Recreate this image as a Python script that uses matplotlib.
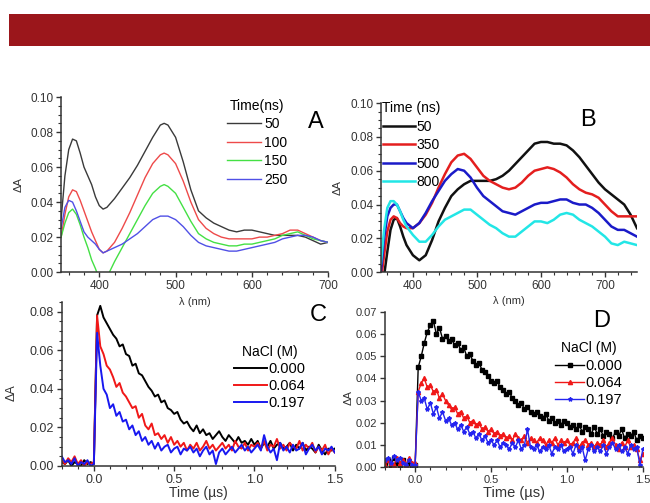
import numpy as np
import matplotlib
matplotlib.use('Agg')
import matplotlib.pyplot as plt
from matplotlib.patches import Rectangle

plt.rcParams['font.family'] = ['Liberation Sans', 'DejaVu Sans']

# Panel A: transient spectra (wavelength in nm)
wl_a = [350, 355, 360, 365, 370, 375, 380, 385, 390, 395, 400, 405, 410, 420, 430,
        440, 450, 460, 470, 480, 485, 490, 500, 510, 520, 530, 540, 550, 560, 570,
        580, 590, 600, 610, 620, 630, 640, 650, 660, 670, 680, 690, 700]
a_50 = [0.030, 0.055, 0.070, 0.076, 0.075, 0.068, 0.060, 0.055, 0.050, 0.043, 0.038, 0.036, 0.037, 0.042, 0.048,
        0.054, 0.061, 0.069, 0.077, 0.084, 0.085, 0.084, 0.077, 0.063, 0.047, 0.035, 0.031, 0.028, 0.026, 0.024,
        0.023, 0.024, 0.024, 0.023, 0.022, 0.021, 0.021, 0.021, 0.021, 0.020, 0.018, 0.016, 0.017]
a_100 = [0.020, 0.033, 0.043, 0.047, 0.046, 0.041, 0.035, 0.029, 0.023, 0.018, 0.013, 0.011, 0.012, 0.017, 0.025,
         0.034, 0.044, 0.054, 0.062, 0.067, 0.068, 0.067, 0.062, 0.052, 0.040, 0.030, 0.025, 0.022, 0.020, 0.019,
         0.019, 0.019, 0.019, 0.020, 0.020, 0.021, 0.022, 0.024, 0.024, 0.022, 0.020, 0.018, 0.017]
a_150 = [0.020, 0.028, 0.034, 0.036, 0.033, 0.027, 0.020, 0.014, 0.007, 0.002, -0.004, -0.007, -0.003, 0.006, 0.014,
         0.022, 0.030, 0.038, 0.045, 0.049, 0.050, 0.049, 0.045, 0.037, 0.029, 0.022, 0.019, 0.017, 0.016, 0.015,
         0.015, 0.016, 0.016, 0.017, 0.018, 0.019, 0.021, 0.022, 0.023, 0.021, 0.019, 0.018, 0.017]
a_250 = [0.025, 0.037, 0.041, 0.040, 0.035, 0.029, 0.023, 0.020, 0.018, 0.016, 0.013, 0.011, 0.012, 0.014, 0.016,
         0.019, 0.022, 0.026, 0.030, 0.032, 0.032, 0.032, 0.030, 0.026, 0.021, 0.017, 0.015, 0.014, 0.013, 0.012,
         0.012, 0.013, 0.014, 0.015, 0.016, 0.017, 0.019, 0.020, 0.021, 0.021, 0.020, 0.018, 0.017]

# Panel B: transient spectra
wl_b = [350, 355, 360, 365, 370, 375, 380, 385, 390, 400, 410, 420, 430, 440, 450,
        460, 470, 480, 490, 500, 510, 520, 530, 540, 550, 560, 570, 580, 590, 600,
        610, 620, 630, 640, 650, 660, 670, 680, 690, 700, 710, 720, 730, 740, 750]
b_50 = [-0.010, -0.002, 0.012, 0.025, 0.031, 0.032, 0.027, 0.021, 0.016, 0.010, 0.007, 0.010, 0.019, 0.030, 0.038,
        0.045, 0.049, 0.052, 0.054, 0.054, 0.054, 0.054, 0.055, 0.057, 0.060, 0.064, 0.068, 0.072, 0.076, 0.077,
        0.077, 0.076, 0.076, 0.075, 0.072, 0.068, 0.063, 0.058, 0.053, 0.049, 0.046, 0.043, 0.040, 0.034, 0.026]
b_350 = [-0.005, 0.010, 0.024, 0.031, 0.033, 0.032, 0.029, 0.027, 0.026, 0.026, 0.029, 0.034, 0.041, 0.050, 0.058,
         0.065, 0.069, 0.070, 0.067, 0.062, 0.057, 0.054, 0.052, 0.050, 0.049, 0.050, 0.053, 0.057, 0.060, 0.061,
         0.062, 0.061, 0.059, 0.056, 0.052, 0.049, 0.047, 0.046, 0.044, 0.040, 0.036, 0.033, 0.033, 0.033, 0.033]
b_500 = [0.000, 0.020, 0.033, 0.038, 0.040, 0.040, 0.036, 0.032, 0.029, 0.026, 0.029, 0.035, 0.042, 0.048, 0.054,
         0.058, 0.061, 0.060, 0.056, 0.050, 0.045, 0.042, 0.039, 0.036, 0.035, 0.034, 0.036, 0.038, 0.040, 0.041,
         0.041, 0.042, 0.043, 0.043, 0.041, 0.040, 0.040, 0.038, 0.035, 0.031, 0.027, 0.025, 0.025, 0.023, 0.021]
b_800 = [0.005, 0.025, 0.038, 0.042, 0.042, 0.040, 0.036, 0.031, 0.027, 0.022, 0.018, 0.018, 0.022, 0.027, 0.031,
         0.033, 0.035, 0.037, 0.037, 0.034, 0.031, 0.028, 0.026, 0.023, 0.021, 0.021, 0.024, 0.027, 0.030, 0.030,
         0.029, 0.031, 0.034, 0.035, 0.034, 0.031, 0.029, 0.027, 0.024, 0.021, 0.017, 0.016, 0.018, 0.017, 0.016]

# Panels C and D: kinetic traces, time in microseconds (-0.20 ... 1.50, step 0.02)
t_us = np.round(np.arange(-0.20, 1.51, 0.02), 2)

c_000 = [0.002, 0.001, 0.003, 0.000, 0.002, 0.001, 0.000, 0.003, 0.001, 0.002,
         0.001, 0.078, 0.083, 0.077, 0.074, 0.071, 0.068, 0.066, 0.062, 0.063,
         0.058, 0.057, 0.052, 0.053, 0.048, 0.047, 0.044, 0.041, 0.039, 0.036,
         0.037, 0.033, 0.034, 0.030, 0.029, 0.027, 0.028, 0.024, 0.022, 0.023,
         0.020, 0.018, 0.021, 0.017, 0.019, 0.016, 0.017, 0.014, 0.016, 0.018,
         0.015, 0.013, 0.016, 0.014, 0.012, 0.015, 0.012, 0.013, 0.011, 0.014,
         0.011, 0.013, 0.009, 0.012, 0.010, 0.013, 0.009, 0.011, 0.012, 0.009,
         0.010, 0.012, 0.008, 0.011, 0.009, 0.012, 0.008, 0.010, 0.009, 0.007,
         0.011, 0.008, 0.006, 0.009, 0.008, 0.009]
c_064 = [0.003, 0.001, 0.004, 0.002, 0.005, 0.001, 0.003, 0.000, 0.002, 0.001,
         0.002, 0.078, 0.062, 0.058, 0.052, 0.050, 0.046, 0.041, 0.043, 0.038,
         0.036, 0.033, 0.030, 0.031, 0.025, 0.027, 0.021, 0.019, 0.022, 0.016,
         0.017, 0.014, 0.016, 0.012, 0.015, 0.011, 0.013, 0.010, 0.012, 0.008,
         0.011, 0.009, 0.012, 0.008, 0.010, 0.013, 0.009, 0.011, 0.008, 0.010,
         0.012, 0.009, 0.011, 0.008, 0.013, 0.010, 0.009, 0.012, 0.008, 0.011,
         0.010, 0.012, 0.009, 0.013, 0.008, 0.011, 0.010, 0.014, 0.009, 0.011,
         0.008, 0.012, 0.010, 0.009, 0.013, 0.008, 0.011, 0.009, 0.012, 0.007,
         0.010, 0.008, 0.011, 0.006, 0.009, 0.007]
c_197 = [0.005, 0.002, 0.003, 0.001, 0.004, 0.000, 0.002, 0.001, 0.003, 0.000,
         0.001, 0.069, 0.052, 0.040, 0.037, 0.030, 0.032, 0.026, 0.028, 0.023,
         0.024, 0.019, 0.021, 0.016, 0.018, 0.013, 0.015, 0.011, 0.013, 0.009,
         0.012, 0.008, 0.010, 0.011, 0.007, 0.009, 0.010, 0.006, 0.009, 0.008,
         0.010, 0.007, 0.009, 0.005, 0.008, 0.010, 0.006, 0.008, 0.001, 0.007,
         0.009, 0.006, 0.008, 0.010, 0.007, 0.009, 0.011, 0.008, 0.010, 0.007,
         0.009, 0.011, 0.008, 0.016, 0.010, 0.007, 0.009, 0.003, 0.012, 0.008,
         0.010, 0.007, 0.011, 0.008, 0.009, 0.012, 0.006, 0.009, 0.011, 0.008,
         0.010, 0.006, 0.009, 0.008, 0.010, 0.007]

d_000 = [0.002, 0.003, 0.001, 0.004, 0.002, 0.000, 0.003, 0.001, 0.002, 0.000,
         0.001, 0.045, 0.050, 0.056, 0.061, 0.064, 0.066, 0.060, 0.063, 0.058,
         0.059, 0.057, 0.058, 0.055, 0.056, 0.053, 0.054, 0.050, 0.051, 0.048,
         0.046, 0.047, 0.044, 0.043, 0.041, 0.039, 0.038, 0.039, 0.036, 0.035,
         0.033, 0.034, 0.031, 0.030, 0.028, 0.029, 0.026, 0.027, 0.025, 0.024,
         0.025, 0.023, 0.022, 0.024, 0.021, 0.022, 0.020, 0.021, 0.019, 0.021,
         0.020, 0.018, 0.019, 0.017, 0.019, 0.016, 0.018, 0.017, 0.015, 0.018,
         0.015, 0.017, 0.014, 0.016, 0.015, 0.013, 0.016, 0.014, 0.017, 0.013,
         0.015, 0.014, 0.016, 0.012, 0.014, 0.013]
d_064 = [0.001, 0.003, 0.002, 0.001, 0.004, 0.002, 0.003, 0.001, 0.004, 0.002,
         0.002, 0.034, 0.038, 0.040, 0.036, 0.037, 0.034, 0.035, 0.031, 0.033,
         0.030, 0.028, 0.026, 0.027, 0.024, 0.025, 0.022, 0.023, 0.020, 0.021,
         0.019, 0.020, 0.017, 0.018, 0.016, 0.017, 0.015, 0.016, 0.014, 0.015,
         0.013, 0.014, 0.012, 0.015, 0.013, 0.012, 0.014, 0.011, 0.013, 0.012,
         0.011, 0.013, 0.012, 0.010, 0.012, 0.011, 0.013, 0.010, 0.012, 0.011,
         0.012, 0.010, 0.011, 0.013, 0.009, 0.011, 0.012, 0.010, 0.011, 0.009,
         0.011, 0.010, 0.012, 0.009, 0.011, 0.013, 0.010, 0.008, 0.011, 0.009,
         0.012, 0.009, 0.010, 0.008, 0.003, 0.006]
d_197 = [0.003, 0.004, 0.002, 0.005, 0.003, 0.004, 0.002, 0.001, 0.003, 0.001,
         0.001, 0.034, 0.030, 0.031, 0.026, 0.029, 0.024, 0.027, 0.022, 0.025,
         0.021, 0.022, 0.019, 0.020, 0.017, 0.019, 0.016, 0.018, 0.015, 0.016,
         0.013, 0.015, 0.012, 0.014, 0.011, 0.012, 0.010, 0.012, 0.009, 0.011,
         0.010, 0.008, 0.011, 0.009, 0.012, 0.008, 0.010, 0.017, 0.009, 0.008,
         0.010, 0.007, 0.009, 0.008, 0.010, 0.006, 0.009, 0.008, 0.010, 0.007,
         0.008, 0.009, 0.006, 0.010, 0.007, 0.009, 0.003, 0.008, 0.010, 0.007,
         0.009, 0.007, 0.010, 0.006, 0.009, 0.011, 0.008, 0.010, 0.007, 0.009,
         0.006, 0.010, 0.008, 0.009, 0.001, 0.008]

time_labels = ['50', '100', '150', '250']
time_labels_b = ['50', '350', '500', '800']
nacl_labels = ['0.000', '0.064', '0.197']

fig = plt.figure(figsize=(6.5, 5.03), dpi=100)
fig.patches.append(Rectangle((0.0138, 0.9085), 0.986, 0.0636, transform=fig.transFigure,
                             facecolor='#9b161b', edgecolor='none', zorder=0))

axA = fig.add_axes([0.094, 0.459, 0.411, 0.348])
axB = fig.add_axes([0.586, 0.459, 0.394, 0.336])
axC = fig.add_axes([0.095, 0.0736, 0.42, 0.326])
axD = fig.add_axes([0.592, 0.0716, 0.397, 0.308])
for ax in (axA, axB, axC, axD):
    ax.set_facecolor('none')


def style(ax, size):
    for s in ['top', 'right']:
        ax.spines[s].set_visible(False)
    for s in ['left', 'bottom']:
        ax.spines[s].set_linewidth(1.1)
        ax.spines[s].set_color('#333333')
    ax.tick_params(which='major', length=3.5, width=1, labelsize=size, colors='#333333', pad=2)
    ax.tick_params(which='minor', length=2, width=0.8, colors='#333333')
    ax.minorticks_on()


# A
for y, c, lab in zip([a_50, a_100, a_150, a_250],
                     ['#3a3a3a', '#ee4a4a', '#44e044', '#5050e6'], time_labels):
    axA.plot(wl_a, y, color=c, lw=1.0, label=lab)
axA.set_xlim(350, 700)
axA.set_ylim(0, 0.10)
axA.set_xticks([400, 500, 600, 700])
axA.set_yticks(np.arange(0, 0.101, 0.02))
axA.yaxis.set_major_formatter(matplotlib.ticker.FormatStrFormatter('%.2f'))
style(axA, 8.5)
axA.set_xlabel('λ (nm)', fontsize=8, color='#333333')
axA.xaxis.set_label_coords(0.5, -0.14)
axA.set_ylabel('ΔA', fontsize=8, color='#333333')
axA.yaxis.set_label_coords(-0.14, 0.5)
axA.legend(title='Time(ns)', loc='upper left', bbox_to_anchor=(0.62, 0.99), frameon=False,
           fontsize=10, title_fontsize=10, handlelength=2.5, handletextpad=0.2,
           labelspacing=0.32, borderpad=0, borderaxespad=0)
axA.text(0.955, 0.86, 'A', transform=axA.transAxes, fontsize=17, ha='center', va='center')

# B
for y, c, lab in zip([b_50, b_350, b_500, b_800],
                     ['#111111', '#e41e1e', '#1a1ac8', '#22e6e6'], time_labels_b):
    axB.plot(wl_b, y, color=c, lw=1.8, label=lab)
axB.set_xlim(350, 750)
axB.set_ylim(0, 0.10)
axB.set_xticks([400, 500, 600, 700])
axB.set_yticks(np.arange(0, 0.101, 0.02))
axB.yaxis.set_major_formatter(matplotlib.ticker.FormatStrFormatter('%.2f'))
style(axB, 8.5)
axB.set_xlabel('λ (nm)', fontsize=8, color='#333333')
axB.xaxis.set_label_coords(0.5, -0.14)
axB.set_ylabel('ΔA', fontsize=8, color='#333333')
axB.yaxis.set_label_coords(-0.15, 0.5)
axB.legend(title='Time (ns)', loc='upper left', bbox_to_anchor=(0.005, 1.01), frameon=False,
           fontsize=10, title_fontsize=10, handlelength=2.3, handletextpad=0.15,
           labelspacing=0.32, borderpad=0, borderaxespad=0)
axB.text(0.81, 0.9, 'B', transform=axB.transAxes, fontsize=17, ha='center', va='center')

# C
for y, c, lab in zip([c_000, c_064, c_197], ['#000000', '#f01818', '#1818f0'], nacl_labels):
    axC.plot(t_us, y, color=c, lw=1.4, label=lab)
axC.set_xlim(-0.2, 1.5)
axC.set_ylim(0, 0.085)
axC.set_xticks([0.0, 0.5, 1.0, 1.5])
axC.set_yticks(np.arange(0, 0.081, 0.02))
axC.xaxis.set_major_formatter(matplotlib.ticker.FormatStrFormatter('%.1f'))
axC.yaxis.set_major_formatter(matplotlib.ticker.FormatStrFormatter('%.2f'))
style(axC, 9)
axC.set_xlabel('Time (µs)', fontsize=10, color='#333333', labelpad=0)
axC.set_ylabel('ΔA', fontsize=9, color='#333333')
axC.yaxis.set_label_coords(-0.16, 0.45)
axC.legend(title='NaCl (M)', loc='upper left', bbox_to_anchor=(0.63, 0.74), frameon=False,
           fontsize=10.5, title_fontsize=10, handlelength=2.3, handletextpad=0.1,
           labelspacing=0.22, borderpad=0, borderaxespad=0)
axC.text(0.94, 0.92, 'C', transform=axC.transAxes, fontsize=17, ha='center', va='center')

# D
for y, c, m, lab in zip([d_000, d_064, d_197], ['#000000', '#f01818', '#2424f0'],
                        ['s', '^', '*'], nacl_labels):
    axD.plot(t_us, y, color=c, lw=1.0, marker=m, ms=3, label=lab)
axD.set_xlim(-0.2, 1.5)
axD.set_ylim(0, 0.07)
axD.set_xticks([0.0, 0.5, 1.0, 1.5])
axD.set_yticks(np.arange(0, 0.071, 0.01))
axD.xaxis.set_major_formatter(matplotlib.ticker.FormatStrFormatter('%.1f'))
axD.yaxis.set_major_formatter(matplotlib.ticker.FormatStrFormatter('%.2f'))
style(axD, 8)
axD.yaxis.set_minor_locator(matplotlib.ticker.NullLocator())
axD.set_xlabel('Time (µs)', fontsize=10.5, color='#333333', labelpad=1)
axD.set_ylabel('ΔA', fontsize=8, color='#333333')
axD.yaxis.set_label_coords(-0.12, 0.45)
axD.legend(title='NaCl (M)', loc='upper left', bbox_to_anchor=(0.66, 0.81), frameon=False,
           fontsize=10.5, title_fontsize=10, handlelength=2.0, handletextpad=0.1,
           labelspacing=0.22, borderpad=0, borderaxespad=0, numpoints=1)
axD.text(0.84, 0.94, 'D', transform=axD.transAxes, fontsize=17, ha='center', va='center')

fig.savefig('out.png', dpi=100)
